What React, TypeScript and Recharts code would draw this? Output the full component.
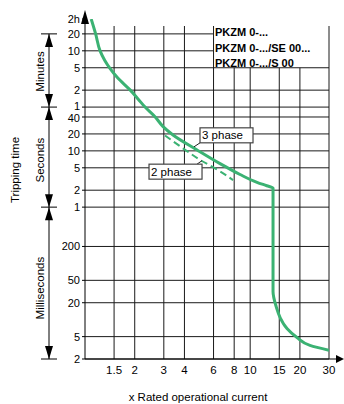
import React from "react";
import { LineChart, Line, XAxis, YAxis, ReferenceLine, ReferenceDot } from "recharts";

// ---------- data ----------
const xTicks = [1.5, 2, 3, 4, 6, 8, 10, 15, 20, 30];
const yTickSeconds = [7200, 1200, 600, 300, 120, 60, 40, 20, 10, 5, 2, 1, 0.2, 0.05, 0.02, 0.005, 0.002];
const yTickLabels = ["2h", "20", "10", "5", "2", "1", "40", "20", "10", "5", "2", "1", "200", "50", "20", "5", "2"];

// x rated current, tripping time in seconds (3 phase, solid)
const phase3X = [1.09, 1.16, 1.234, 1.318, 1.42, 1.57, 1.88, 2.1, 2.31, 2.66, 2.97, 3.41, 4.77, 6.57, 8.68, 11.0, 12.6, 13.75, 13.75, 14.4, 15.2, 16.7, 19.2, 23.0, 30];
const phase3Seconds = [7200, 1200, 600, 405, 290, 201, 120, 83, 60, 40, 27, 19.2, 10.4, 5.94, 3.8, 2.76, 2.4, 2.19, 0.0316, 0.0167, 0.0108, 0.00695, 0.00481, 0.00349, 0.00286];

// 2 phase, dashed
const phase2X = [3.05, 3.92, 4.97, 6.3, 7.88];
const phase2Seconds = [18.8, 11.1, 6.92, 4.67, 3.02];

const legendLines = ["PKZM 0-...", "PKZM 0-.../SE 00...", "PKZM 0-.../S 00"];
const bracketLabels = ["Minutes", "Seconds", "Milliseconds"];
const bracketBounds = [1200, 60, 1, 0.002];

// ---------- layout ----------
const W = 344;
const H = 404;
const M = { top: 19, right: 15, bottom: 15, left: 0 };
const Y_AXIS_W = 85;
const X_AXIS_H = 30;
const PLOT_TOP = M.top;
const PLOT_BOTTOM = H - M.bottom - X_AXIS_H;
const PLOT_LEFT = M.left + Y_AXIS_W;
const PLOT_RIGHT = W - M.right;
const FONT = '"Liberation Sans", Arial, Helvetica, sans-serif';
const GREEN = "#3bb273";
const GRID = "#1a1a1a";
const TICK_FS = 11;

// vertical axis: logarithmic, with the range above 20 min compressed
const LOG1200 = Math.log10(1200);
const warp = (s: number) => (s <= 1200 ? Math.log10(s) : LOG1200 + (Math.log10(s) - LOG1200) * 0.34);
const Y_MIN = warp(0.002);
const Y_MAX = warp(7200);
const yPix = (s: number) => PLOT_TOP + ((Y_MAX - warp(s)) / (Y_MAX - Y_MIN)) * (PLOT_BOTTOM - PLOT_TOP);
const GRID_TOP = Y_MAX - (7 / (PLOT_BOTTOM - PLOT_TOP)) * (Y_MAX - Y_MIN);

const phase3Data = phase3X.map((x, i) => ({ x, y: warp(phase3Seconds[i]) }));
const phase2Data = phase2X.map((x, i) => ({ x, y: warp(phase2Seconds[i]) }));
const yTicks = yTickSeconds.map(warp);

const tickIndex = (v: number) => yTicks.findIndex((t) => Math.abs(t - v) < 1e-9);
// small vertical nudges so the crowded "1" / "40" labels do not collide
const labelNudge = (s: number) => (s === 60 ? -1.5 : s === 40 ? 1.5 : 0);

const YTick = (props: any) => {
  const { x, y, payload } = props;
  const j = tickIndex(payload.value);
  if (j < 0) return null;
  return (
    <text
      x={x}
      y={y + labelNudge(yTickSeconds[j]) + TICK_FS * 0.36}
      textAnchor="end"
      fontFamily={FONT}
      fontSize={TICK_FS}
      fill="#000"
    >
      {yTickLabels[j]}
    </text>
  );
};

const fullVertical = [1.5, 2, 3, 4, 6, 30];
const lowerVertical = [8, 10, 15, 20];
const shortHorizontal = [1200, 600];
const fullHorizontal = yTickSeconds.filter((s) => s !== 7200 && s !== 1200 && s !== 600);

const Phase3Label = (p: any) => {
  const { cx, cy } = p;
  return (
    <g>
      <line x1={cx} y1={cy} x2={cx + 6} y2={cy - 4} stroke="#222" strokeWidth={1} />
      <rect x={cx + 6} y={cy - 19} width={53} height={15} fill="#fff" stroke="#444" strokeWidth={1.2} />
      <text x={cx + 8} y={cy - 7.5} fontFamily={FONT} fontSize={11.5} fill="#000">3 phase</text>
    </g>
  );
};

const Phase2Label = (p: any) => {
  const { cx, cy } = p;
  return (
    <g>
      <line x1={cx} y1={cy} x2={cx - 5} y2={cy + 3.5} stroke="#222" strokeWidth={1} />
      <rect x={cx - 53} y={cy + 3.5} width={53} height={15} fill="#fff" stroke="#444" strokeWidth={1.2} />
      <text x={cx - 51} y={cy + 15} fontFamily={FONT} fontSize={11.5} fill="#000">2 phase</text>
    </g>
  );
};

const Overlay = () => {
  const BX = 49;
  const ys = bracketBounds.map(yPix);
  const textOffsets = [1, 3, 5];
  return (
    <svg width={W} height={H} style={{ position: "absolute", left: 0, top: 0, pointerEvents: "none" }}>
      {/* y axis arrow */}
      <line x1={PLOT_LEFT} y1={PLOT_TOP} x2={PLOT_LEFT} y2={20} stroke="#000" strokeWidth={1} />
      <polygon points={`${PLOT_LEFT - 4},24 ${PLOT_LEFT},10 ${PLOT_LEFT + 4},24`} fill="#000" />
      {/* x axis arrow */}
      <line x1={PLOT_RIGHT} y1={PLOT_BOTTOM} x2={W - 6} y2={PLOT_BOTTOM} stroke="#000" strokeWidth={1} />
      <polygon points={`${W - 8},${PLOT_BOTTOM - 4} ${W},${PLOT_BOTTOM} ${W - 8},${PLOT_BOTTOM + 4}`} fill="#000" />
      {/* brackets */}
      {ys.map((y, i) => (
        <line key={"t" + i} x1={41} y1={y} x2={57} y2={y} stroke="#000" strokeWidth={1} />
      ))}
      {bracketLabels.map((lab, i) => {
        const a = ys[i];
        const b = ys[i + 1];
        const mid = (a + b) / 2 + textOffsets[i];
        return (
          <g key={lab}>
            <line x1={BX} y1={a} x2={BX} y2={b} stroke="#000" strokeWidth={1} />
            <polygon points={`${BX - 4},${a + 13} ${BX},${a} ${BX + 4},${a + 13}`} fill="#000" />
            <polygon points={`${BX - 4},${b - 13} ${BX},${b} ${BX + 4},${b - 13}`} fill="#000" />
            <text
              x={40}
              y={mid}
              transform={`rotate(-90 40 ${mid})`}
              textAnchor="middle"
              dominantBaseline="central"
              fontFamily={FONT}
              fontSize={11.5}
              fill="#000"
            >
              {lab}
            </text>
          </g>
        );
      })}
      <text
        x={15}
        y={170}
        transform="rotate(-90 15 170)"
        textAnchor="middle"
        dominantBaseline="central"
        fontFamily={FONT}
        fontSize={11.5}
        fill="#000"
      >
        Tripping time
      </text>
      {/* legend text */}
      {legendLines.map((t, i) => (
        <text key={t} x={215} y={[36, 51.5, 67][i]} fontFamily={FONT} fontSize={11} fontWeight="bold" fill="#000">
          {t}
        </text>
      ))}
      <text x={198} y={401} textAnchor="middle" fontFamily={FONT} fontSize={11.5} fill="#000">
        x Rated operational current
      </text>
    </svg>
  );
};

export default function App() {
  return (
    <div style={{ position: "absolute", left: 0, top: 0, width: W, height: H, background: "#fff" }}>
      <LineChart width={W} height={H} margin={M}>
        <XAxis
          dataKey="x"
          type="number"
          scale="log"
          domain={[1, 30]}
          ticks={xTicks}
          allowDataOverflow
          interval={0}
          tickLine={false}
          tickSize={0}
          tickMargin={7}
          height={X_AXIS_H}
          stroke="#000"
          tick={{ fill: "#000", fontSize: 11.5, fontFamily: FONT }}
        />
        <YAxis
          type="number"
          domain={[Y_MIN, Y_MAX]}
          ticks={yTicks}
          interval={0}
          allowDataOverflow
          width={Y_AXIS_W}
          tickSize={3}
          tickMargin={2}
          stroke="#000"
          tick={<YTick />}
        />
        {fullVertical.map((v) => (
          <ReferenceLine key={"fv" + v} segment={[{ x: v, y: GRID_TOP }, { x: v, y: Y_MIN }]} stroke={GRID} strokeWidth={1} />
        ))}
        {lowerVertical.map((v) => (
          <ReferenceLine key={"lv" + v} segment={[{ x: v, y: warp(300) }, { x: v, y: Y_MIN }]} stroke={GRID} strokeWidth={1} />
        ))}
        {shortHorizontal.map((s) => (
          <ReferenceLine key={"sh" + s} segment={[{ x: 1, y: warp(s) }, { x: 6, y: warp(s) }]} stroke={GRID} strokeWidth={1} />
        ))}
        {fullHorizontal.map((s) => (
          <ReferenceLine key={"fh" + s} y={warp(s)} stroke={GRID} strokeWidth={1} />
        ))}
        <Line
          data={phase2Data}
          dataKey="y"
          type="monotoneY"
          stroke={GREEN}
          strokeWidth={2}
          strokeDasharray="7 4"
          dot={false}
          isAnimationActive={false}
        />
        <Line data={phase3Data} dataKey="y" type="monotoneY" stroke={GREEN} strokeWidth={3} dot={false} isAnimationActive={false} />
        <ReferenceDot x={4.57} y={warp(11.8)} r={0} shape={(p: any) => <Phase3Label {...p} />} />
        <ReferenceDot x={5.11} y={warp(6.7)} r={0} shape={(p: any) => <Phase2Label {...p} />} />
      </LineChart>
      <Overlay />
    </div>
  );
}
